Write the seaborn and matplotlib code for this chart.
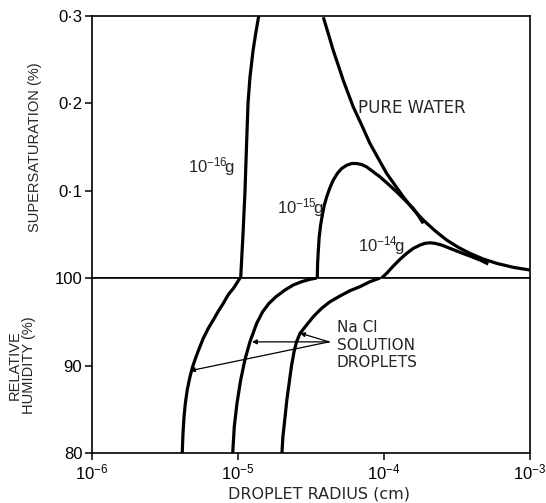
import matplotlib
matplotlib.use("Agg")
from matplotlib import pyplot as plt
import seaborn as sns

# curves: radius in cm, RH in %, supersaturation in %
r16_rh = [1.032e-5, 9.80e-6, 9.29e-6, 8.58e-6, 7.93e-6, 7.33e-6, 6.77e-6, 6.26e-6, 5.78e-6,
          5.43e-6, 5.16e-6, 4.89e-6, 4.69e-6, 4.49e-6, 4.36e-6, 4.27e-6, 4.20e-6, 4.15e-6]
rh16 = [100, 99.4, 98.8, 98.1, 97.1, 96.2, 95.2, 94.25, 93.1,
        91.96, 91.0, 89.87, 88.72, 87.2, 85.7, 84.15, 82.25, 80]
r16_ss = [1.043e-5, 1.082e-5, 1.117e-5, 1.143e-5, 1.171e-5, 1.208e-5, 1.267e-5, 1.322e-5, 1.386e-5]
ss16 = [0.0, 0.05, 0.10, 0.15, 0.20, 0.23, 0.26, 0.28, 0.30]

r15_rh = [3.46e-5, 3.11e-5, 2.73e-5, 2.39e-5, 2.10e-5, 1.82e-5, 1.63e-5, 1.476e-5, 1.343e-5,
          1.208e-5, 1.117e-5, 1.043e-5, 9.84e-6, 9.43e-6, 9.20e-6]
rh15 = [100, 99.85, 99.58, 99.2, 98.63, 97.86, 97.1, 96.15, 94.82,
        92.72, 90.71, 88.34, 85.68, 83.01, 80]
r15_ss = [3.49e-5, 3.51e-5, 3.55e-5, 3.60e-5, 3.68e-5, 3.78e-5, 3.90e-5, 4.05e-5, 4.27e-5,
          4.49e-5, 4.79e-5, 5.13e-5, 5.55e-5, 6.01e-5, 6.50e-5, 7.04e-5, 7.61e-5, 8.45e-5,
          9.39e-5, 1.070e-4, 1.222e-4, 1.393e-4, 1.587e-4, 1.710e-4, 1.859e-4]
ss15 = [0.0, 0.0168, 0.032, 0.0472, 0.0606, 0.072, 0.0834, 0.0929, 0.1037,
        0.112, 0.1197, 0.1254, 0.1291, 0.1311, 0.1311, 0.1299, 0.1272, 0.1215,
        0.1158, 0.1074, 0.0986, 0.0891, 0.0797, 0.072, 0.0625]

r14_rh = [9.39e-5, 8.02e-5, 6.85e-5, 5.85e-5, 4.99e-5, 4.27e-5, 3.74e-5, 3.28e-5, 2.95e-5,
          2.66e-5, 2.52e-5, 2.42e-5, 2.32e-5, 2.24e-5, 2.16e-5, 2.09e-5, 2.03e-5, 2.00e-5]
rh14 = [100, 99.58, 99.01, 98.55, 97.94, 97.29, 96.54, 95.58, 94.63,
        93.68, 92.72, 91.58, 89.86, 87.97, 86.06, 83.77, 81.86, 80]
r14_ss = [9.64e-5, 1.043e-4, 1.158e-4, 1.287e-4, 1.430e-4, 1.587e-4, 1.764e-4, 1.909e-4,
          2.065e-4, 2.235e-4, 2.484e-4, 2.834e-4, 3.315e-4, 3.881e-4, 4.544e-4, 5.18e-4]
ss14 = [0.0, 0.0054, 0.0137, 0.0214, 0.0282, 0.0339, 0.0377, 0.0397,
        0.0403, 0.0397, 0.0377, 0.0339, 0.0294, 0.0251, 0.0206, 0.016]

r_water = [3.84e-5, 4.155e-5, 4.49e-5, 4.864e-5, 5.26e-5, 5.69e-5, 6.16e-5, 7.04e-5, 8.02e-5,
           9.14e-5, 1.043e-4, 1.189e-4, 1.356e-4, 1.587e-4, 1.859e-4, 2.235e-4, 2.69e-4,
           3.228e-4, 3.88e-4, 4.787e-4, 5.91e-4, 7.685e-4, 1.0e-3]
ss_water = [0.2986, 0.2797, 0.2606, 0.2434, 0.2263, 0.2111, 0.1958, 0.1749, 0.1539,
            0.1368, 0.1197, 0.1063, 0.0929, 0.0785, 0.0663, 0.0541, 0.0434,
            0.0351, 0.0282, 0.0217, 0.0168, 0.0122, 0.0091]

ss_ticks = [0.1, 0.2, 0.3]
ss_labels = ["0·1", "0·2", "0·3"]
rh_ticks = [80, 90, 100]
rh_labels = ["80", "90", "100"]
x_ticks = [1e-6, 1e-5, 1e-4, 1e-3]
x_labels = [r"$10^{-6}$", r"$10^{-5}$", r"$10^{-4}$", r"$10^{-3}$"]

sns.set_style("ticks")
plt.rcParams["font.family"] = ["Liberation Sans", "DejaVu Sans"]
plt.rcParams["mathtext.fontset"] = "custom"
plt.rcParams["mathtext.rm"] = "Liberation Sans"
plt.rcParams["mathtext.it"] = "Liberation Sans"
plt.rcParams["mathtext.bf"] = "Liberation Sans"

fig = plt.figure(figsize=(5.46, 5.03), dpi=100)
ax_top = fig.add_axes([92/546, 225/503, 438/546, 262/503])
ax_bot = fig.add_axes([92/546, 50/503, 438/546, 175/503])

line_kw = dict(color="black", lw=2.3, sort=False, estimator=None,
               solid_joinstyle="round", solid_capstyle="butt")
for rr, ss in [(r16_ss, ss16), (r15_ss, ss15), (r14_ss, ss14), (r_water, ss_water)]:
    sns.lineplot(x=rr, y=ss, ax=ax_top, **line_kw)
for rr, rh in [(r16_rh, rh16), (r15_rh, rh15), (r14_rh, rh14)]:
    sns.lineplot(x=rr, y=rh, ax=ax_bot, **line_kw)

for ax in (ax_top, ax_bot):
    ax.set_xscale("log")
    ax.set_xlim(1e-6, 1e-3)
    for s in ax.spines.values():
        s.set_visible(True)
        s.set_linewidth(1.2)
        s.set_color("black")
    ax.tick_params(direction="out", length=5, width=1.1, labelsize=12, colors="black", pad=2)

ax_top.set_ylim(0, 0.3)
ax_top.set_yticks(ss_ticks)
ax_top.set_yticklabels(ss_labels)
ax_top.set_xticks(x_ticks)
ax_top.minorticks_off()
ax_top.tick_params(axis="x", length=0, labelbottom=False)
ax_top.set_ylabel("SUPERSATURATION (%)", fontsize=10.5)
ax_top.yaxis.set_label_coords(-0.114, 0.5)

ax_bot.set_ylim(80, 100)
ax_bot.set_yticks(rh_ticks)
ax_bot.set_yticklabels(rh_labels)
ax_bot.set_xticks(x_ticks)
ax_bot.set_xticklabels(x_labels)
ax_bot.minorticks_off()
ax_bot.set_ylabel("RELATIVE\nHUMIDITY (%)", fontsize=10.5, linespacing=1.0)
ax_bot.yaxis.set_label_coords(-0.128, 0.5)
ax_bot.set_xlabel("DROPLET RADIUS (cm)", fontsize=11.5, family="DejaVu Sans")
ax_bot.xaxis.set_label_coords(0.518, -0.19)

ax_top.text(6.64e-5, 0.195, "PURE WATER", fontsize=12, family="DejaVu Sans",
            ha="left", va="center")
ax_top.text(4.55e-6, 0.128, r"$10^{-16}\!\mathrm{g}$", fontsize=12, ha="left", va="center")
ax_top.text(1.85e-5, 0.081, r"$10^{-15}\!\mathrm{g}$", fontsize=12, ha="left", va="center")
ax_top.text(6.64e-5, 0.037, r"$10^{-14}\!\mathrm{g}$", fontsize=12, ha="left", va="center")

ax_bot.text(4.76e-5, 92.3, "Na Cl\nSOLUTION\nDROPLETS", fontsize=11, family="DejaVu Sans",
            ha="left", va="center", linespacing=1.2)
tip = (4.2e-5, 92.7)
for target in [(2.66e-5, 93.7), (1.247e-5, 92.7), (4.69e-6, 89.4)]:
    ax_bot.annotate("", xy=target, xytext=tip,
                    arrowprops=dict(arrowstyle="-|>", color="black", lw=0.9,
                                    mutation_scale=7, shrinkA=0, shrinkB=0))

fig.savefig("out.png", dpi=100)
